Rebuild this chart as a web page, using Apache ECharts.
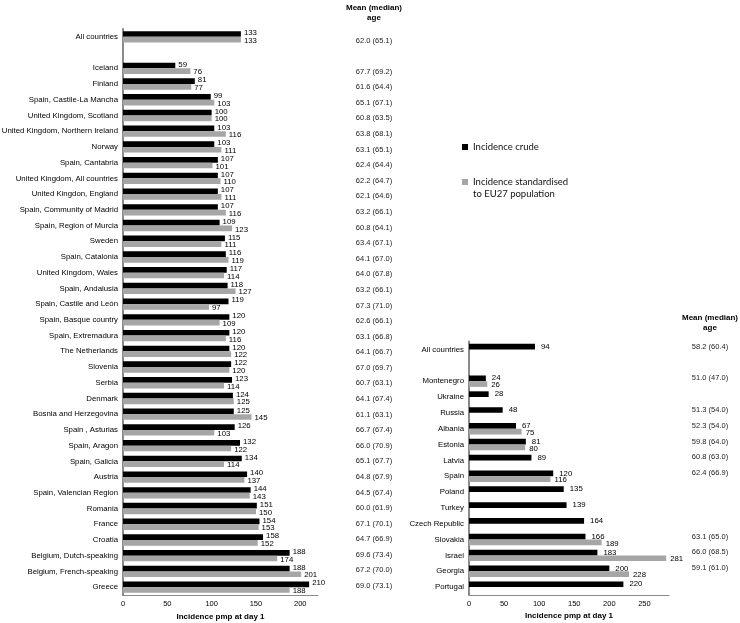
<!DOCTYPE html>
<html>
<head>
<meta charset="utf-8">
<script src="https://cdn.jsdelivr.net/npm/echarts@6/dist/echarts.min.js"></script>
<style>html,body{margin:0;padding:0;background:#fff}#c{width:740px;height:623px}</style>
</head>
<body>
<div id="c"></div>
<script>
const leftCategories = ['All countries', '', 'Iceland', 'Finland', 'Spain, Castile-La Mancha', 'United Kingdom, Scotland',
  'United Kingdom, Northern Ireland', 'Norway', 'Spain, Cantabria', 'United Kingdom, All countries', 'United Kingdon, England',
  'Spain, Community of Madrid', 'Spain, Region of Murcia', 'Sweden', 'Spain, Catalonia', 'United Kingdom, Wales',
  'Spain, Andalusia', 'Spain, Castile and León', 'Spain, Basque country', 'Spain, Extremadura', 'The Netherlands',
  'Slovenia', 'Serbia', 'Denmark', 'Bosnia and Herzegovina', 'Spain , Asturias', 'Spain, Aragon', 'Spain, Galicia',
  'Austria', 'Spain, Valencian Region', 'Romania', 'France', 'Croatia', 'Belgium, Dutch-speaking',
  'Belgium, French-speaking', 'Greece'];
const leftCrude = [133, null, 59, 81, 99, 100, 103, 103, 107, 107, 107, 107, 109, 115, 116, 117, 118, 119, 120, 120, 120,
  122, 123, 124, 125, 126, 132, 134, 140, 144, 151, 154, 158, 188, 188, 210];
const leftStd = [133, null, 76, 77, 103, 100, 116, 111, 101, 110, 111, 116, 123, 111, 119, 114, 127, 97, 109, 116, 122,
  120, 114, 125, 145, 103, 122, 114, 137, 143, 150, 153, 152, 174, 201, 188];
const leftAges = ['62.0 (65.1)', '', '67.7 (69.2)', '61.6 (64.4)', '65.1 (67.1)', '60.8 (63.5)', '63.8 (68.1)',
  '63.1 (65.1)', '62.4 (64.4)', '62.2 (64.7)', '62.1 (64.6)', '63.2 (66.1)', '60.8 (64.1)', '63.4 (67.1)',
  '64.1 (67.0)', '64.0 (67.8)', '63.2 (66.1)', '67.3 (71.0)', '62.6 (66.1)', '63.1 (66.8)', '64.1 (66.7)',
  '67.0 (69.7)', '60.7 (63.1)', '64.1 (67.4)', '61.1 (63.1)', '66.7 (67.4)', '66.0 (70.9)', '65.1 (67.7)',
  '64.8 (67.9)', '64.5 (67.4)', '60.0 (61.9)', '67.1 (70.1)', '64.7 (66.9)', '69.6 (73.4)', '67.2 (70.0)',
  '69.0 (73.1)'];

const rightCategories = ['All countries', '', 'Montenegro', 'Ukraine', 'Russia', 'Albania', 'Estonia', 'Latvia', 'Spain',
  'Poland', 'Turkey', 'Czech Republic', 'Slovakia', 'Israel', 'Georgia', 'Portugal'];
const rightCrude = [94, null, 24, 28, 48, 67, 81, 89, 120, 135, 139, 164, 166, 183, 200, 220];
const rightStd = [null, null, 26, null, null, 75, 80, null, 116, null, null, null, 189, 281, 228, null];
const rightAges = ['58.2 (60.4)', '', '51.0 (47.0)', '', '51.3 (54.0)', '52.3 (54.0)', '59.8 (64.0)', '60.8 (63.0)',
  '62.4 (66.9)', '', '', '', '63.1 (65.0)', '66.0 (68.5)', '59.1 (61.0)', ''];

const leftMax = 220, rightMax = 285, tickStep = 50;
const crudeName = 'Incidence crude';
const stdName = 'Incidence standardised to EU27 population';
const ageHeader = 'Mean (median)\nage';
const xTitle = 'Incidence pmp at day 1';

const FONT = 'Liberation Sans, Arial, sans-serif';
const BLACK = '#000000', GREY = '#a6a6a6', AXIS = '#8a8a8a';

function valueAxis(gridIndex, max) {
  return {
    type: 'value', gridIndex: gridIndex, min: 0, max: max, interval: tickStep,
    name: xTitle, nameLocation: 'middle', nameGap: 17,
    nameTextStyle: { fontFamily: FONT, fontSize: 8, fontWeight: 'bold', color: '#000' },
    axisLine: { show: true, lineStyle: { color: AXIS, width: 1 } },
    axisTick: { show: false },
    splitLine: { show: false },
    axisLabel: { fontFamily: FONT, fontSize: 7.5, color: '#000', margin: 5, showMaxLabel: false }
  };
}
function catAxis(gridIndex, data) {
  return {
    type: 'category', gridIndex: gridIndex, data: data, inverse: true,
    axisLine: { show: true, lineStyle: { color: AXIS, width: 2 } },
    axisTick: { show: false },
    axisLabel: { fontFamily: FONT, fontSize: 7.8, color: '#000', margin: 5, interval: 0 }
  };
}
function ageAxis(gridIndex, data, nameGap) {
  return {
    type: 'category', gridIndex: gridIndex, data: data, inverse: true, position: 'left',
    name: ageHeader, nameLocation: 'start', nameGap: nameGap,
    nameTextStyle: { fontFamily: FONT, fontSize: 8, fontWeight: 'bold', color: '#000', align: 'center', lineHeight: 10 },
    axisLine: { show: false }, axisTick: { show: false },
    axisLabel: { fontFamily: FONT, fontSize: 7.5, color: '#222', margin: 0, align: 'center', interval: 0 }
  };
}
function barSeries(name, xi, data, color, offY, dist) {
  return {
    type: 'bar', name: name, xAxisIndex: xi, yAxisIndex: xi, data: data,
    barGap: '0%', barCategoryGap: '28%',
    itemStyle: { color: color },
    label: { show: true, position: 'right', distance: dist, offset: [0, offY],
      fontFamily: FONT, fontSize: 7.8, color: '#000' }
  };
}

const chart = echarts.init(document.getElementById('c'), null, { renderer: 'canvas' });
chart.setOption({
  animation: false,
  backgroundColor: '#fff',
  grid: [
    { left: 123, right: 740 - 318, top: 29, bottom: 28, outerBoundsMode: 'none', containLabel: false },
    { left: 374, width: 10, top: 32.7, bottom: 29.2, outerBoundsMode: 'none', containLabel: false },
    { left: 469, right: 740 - 669, top: 341.6, bottom: 28, outerBoundsMode: 'none', containLabel: false },
    { left: 710, width: 10, top: 338.6, bottom: 31, outerBoundsMode: 'none', containLabel: false }
  ],
  xAxis: [
    valueAxis(0, leftMax),
    { type: 'value', gridIndex: 1, show: false },
    valueAxis(2, rightMax),
    { type: 'value', gridIndex: 3, show: false }
  ],
  yAxis: [
    catAxis(0, leftCategories),
    ageAxis(1, leftAges, 10),
    catAxis(2, rightCategories),
    ageAxis(3, rightAges, 6)
  ],
  legend: {
    orient: 'vertical', left: 457, top: 133, itemWidth: 6, itemHeight: 18, itemGap: 20,
    data: [
      { name: crudeName, icon: 'path://M0,0h0.01v0.01h-0.01z M0,6h6v6h-6z M0,18h0.01v-0.01h-0.01z' },
      { name: stdName, icon: 'path://M0,0h6v6h-6z M0,18h0.01v-0.01h-0.01z' }
    ],
    formatter: function (n) { return n === stdName ? 'Incidence standardised\nto EU27 population' : n; },
    textStyle: { fontFamily: 'Lato, Carlito, sans-serif', fontSize: 9.5, color: '#111', lineHeight: 12 }
  },
  series: [
    barSeries(crudeName, 0, leftCrude, BLACK, -1, 3),
    barSeries(stdName, 0, leftStd, GREY, 1, 3),
    barSeries(crudeName, 2, rightCrude, BLACK, 0, 6),
    barSeries(stdName, 2, rightStd, GREY, 1, 4)
  ]
});
</script>
</body>
</html>
